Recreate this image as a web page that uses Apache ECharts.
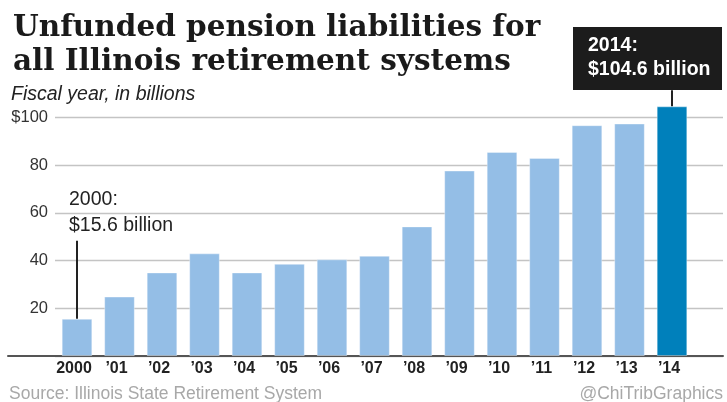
<!DOCTYPE html>
<html>
<head>
<meta charset="utf-8">
<script src="https://cdn.jsdelivr.net/npm/echarts@6/dist/echarts.min.js"></script>
<style>
  html, body { margin: 0; padding: 0; background: #fff; }
  #chart { width: 727px; height: 402px; }
</style>
</head>
<body>
<div id="chart"></div>
<script>
// Fiscal years shown on the category axis
const years = ['2000', '\u201901', '\u201902', '\u201903', '\u201904', '\u201905', '\u201906', '\u201907',
               '\u201908', '\u201909', '\u201910', '\u201911', '\u201912', '\u201913', '\u201914'];
// Unfunded liabilities, billions of dollars
const liabilities = [15.6, 24.9, 35.0, 43.0, 35.0, 38.6, 40.5, 42.0, 54.3, 77.7, 85.5, 83.0, 96.7, 97.4, 104.6];
// Value-axis ticks and their labels
const yTicks = [0, 20, 40, 60, 80, 100];
const yTickLabels = ['', '20', '40', '60', '80', '$100'];
// Called-out years (index into years) and their full names
const calloutIndex = [0, 14];
const calloutYears = ['2000', '2014'];
// Value where each leader line ends above its bar
const leaderTop = [48.3, 111.4];

const LIGHT = '#94bee6';
const DARK = '#0080bb';
const FONT = 'Liberation Sans, Arial, Helvetica, sans-serif';

const chart = echarts.init(document.getElementById('chart'), null, { renderer: 'canvas' });

const barData = liabilities.map((v, i) => ({
  value: v,
  itemStyle: { color: i === calloutIndex[1] ? DARK : LIGHT }
}));

function calloutText(k) {
  return calloutYears[k] + ':\n$' + liabilities[calloutIndex[k]].toFixed(1) + ' billion';
}

const option = {
  animation: false,
  backgroundColor: '#fff',
  title: [
    {
      text: 'Unfunded pension liabilities for\nall Illinois retirement systems',
      left: 8, top: 6,
      textStyle: { fontFamily: 'DejaVu Serif, serif', fontWeight: 'bold', fontSize: 29.5, lineHeight: 34, color: '#1a1a1a' }
    },
    {
      text: 'Fiscal year, in billions',
      left: 6, top: 80,
      textStyle: { fontFamily: FONT, fontStyle: 'italic', fontWeight: 'normal', fontSize: 19.5, lineHeight: 20, color: '#222' }
    }
  ],
  grid: [
    // gridlines and value labels
    { left: 55, right: 4, top: 117.3, bottom: 46 },
    // bars
    { left: 55.75, right: 33.75, top: 69.6, bottom: 46 },
    // full-width baseline
    { left: 8, right: 4, top: 117.3, bottom: 46 }
  ],
  xAxis: [
    { gridIndex: 0, type: 'category', data: years, show: false },
    {
      gridIndex: 1, type: 'category', data: years,
      axisLine: { show: false }, axisTick: { show: false },
      axisLabel: {
        margin: 5, fontFamily: FONT, fontWeight: 'bold', fontSize: 16, color: '#222',
        padding: [0, 6, 0, 0], interval: 0
      }
    },
    {
      gridIndex: 2, type: 'category', data: years,
      axisLine: { show: true, lineStyle: { color: '#555', width: 2 } },
      axisTick: { show: false }, axisLabel: { show: false }
    }
  ],
  yAxis: [
    {
      gridIndex: 0, type: 'value', min: yTicks[0], max: yTicks[yTicks.length - 1], interval: 20,
      axisLine: { show: false }, axisTick: { show: false },
      splitLine: { show: true, lineStyle: { color: '#c4c4c4', width: 1.3 } },
      axisLabel: {
        margin: 7, fontFamily: FONT, fontSize: 16.5, color: '#333',
        formatter: v => yTickLabels[yTicks.indexOf(v)] || ''
      }
    },
    { gridIndex: 1, type: 'value', min: 0, max: 120, show: false, splitLine: { show: false } },
    { gridIndex: 2, type: 'value', min: 0, max: 100, show: false, splitLine: { show: false } }
  ],
  series: [
    {
      type: 'bar',
      xAxisIndex: 1, yAxisIndex: 1,
      data: barData,
      barWidth: '72%',
      itemStyle: { borderColor: 'rgba(255,255,255,0.35)', borderWidth: 1 },
      silent: true,
      markLine: {
        silent: true,
        symbol: ['none', 'none'],
        label: { show: false },
        lineStyle: { color: '#222', width: 2, type: 'solid' },
        data: calloutIndex.map((idx, k) => [
          { coord: [years[idx], liabilities[idx]] },
          { coord: [years[idx], leaderTop[k]] }
        ])
      }
    }
  ],
  graphic: [
    {
      type: 'rect', left: 573, top: 27, silent: true,
      shape: { width: 149, height: 63 },
      style: { fill: '#1c1c1c' }
    },
    {
      type: 'text', left: 588, top: 34, silent: true,
      style: { text: calloutText(1), fill: '#fff', font: 'bold 19.5px ' + FONT, lineHeight: 24 }
    },
    {
      type: 'text', left: 69, top: 187, silent: true,
      style: { text: calloutText(0), fill: '#222', font: '19.5px ' + FONT, lineHeight: 26 }
    },
    {
      type: 'text', left: 9, top: 385, silent: true,
      style: { text: 'Source: Illinois State Retirement System', fill: '#a8a8a8', font: '17.5px ' + FONT }
    },
    {
      type: 'text', right: 4, top: 385, silent: true,
      style: { text: '@ChiTribGraphics', fill: '#a8a8a8', font: '17.5px ' + FONT }
    }
  ]
};

chart.setOption(option);
</script>
</body>
</html>
